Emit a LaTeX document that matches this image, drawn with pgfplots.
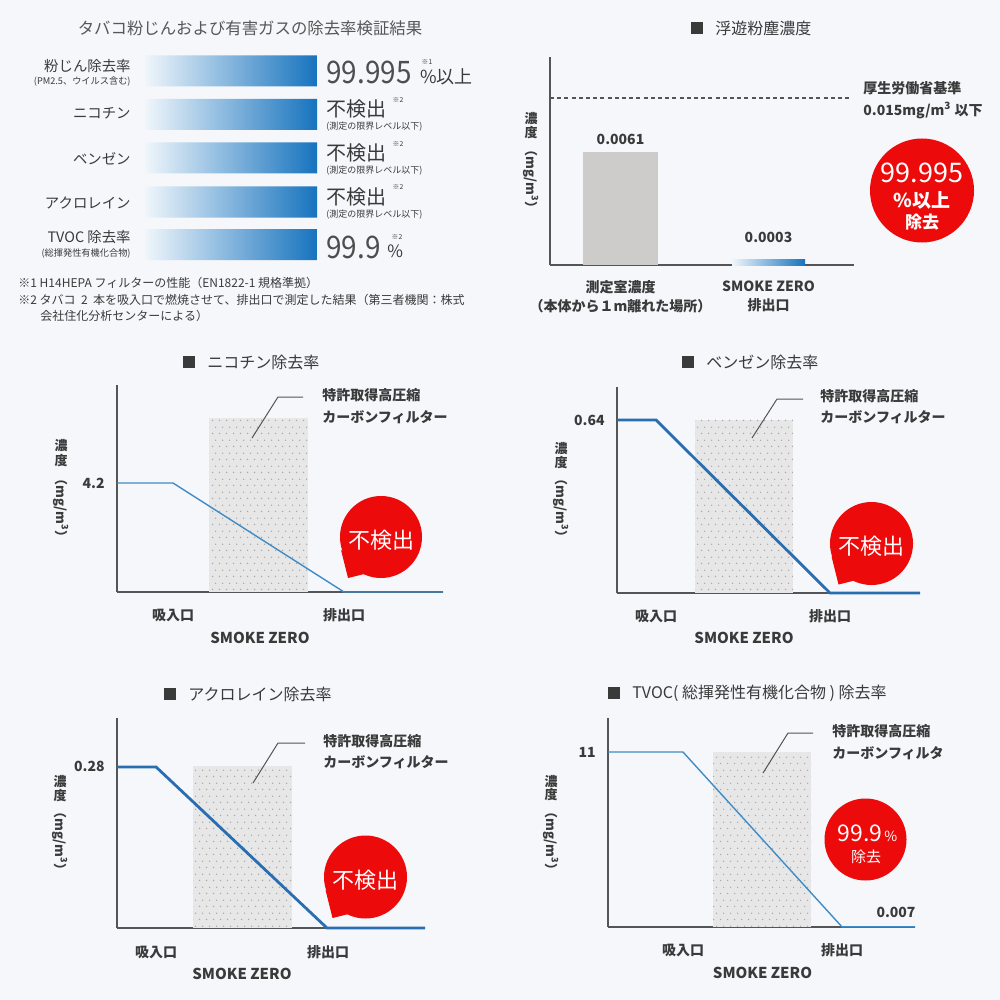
\documentclass[border=0pt]{standalone}
\usepackage{pgfplots}
\pgfplotsset{compat=1.18}
\usepackage{graphicx}
\usepackage{fontspec}
\setmainfont{Noto Sans CJK JP}
\usetikzlibrary{patterns.meta}

\definecolor{bgc}{HTML}{F5F7FA}
\definecolor{txt}{HTML}{3A3A3A}
\definecolor{axc}{HTML}{555555}
\definecolor{bluethin}{HTML}{3F8CC6}
\definecolor{bluethick}{HTML}{2A6EB2}
\definecolor{bluebar}{HTML}{1673BE}
\definecolor{barlight}{HTML}{F0F6FB}
\definecolor{grayb}{HTML}{CECCCA}
\definecolor{filtc}{HTML}{E7E7E7}
\definecolor{dotc}{HTML}{ADA8A8}
\definecolor{redc}{HTML}{EC0A0A}
\definecolor{sqc}{HTML}{3A3A3A}

\newcommand\fs[1]{\fontsize{#1}{#1}\selectfont}
\newcommand\lbl{\fontsize{7}{9.5}\selectfont\bfseries}

\tikzdeclarepattern{
  name=fdots, type=uncolored,
  bottom left={(0pt,0pt)}, top right={(3.3pt,6.6pt)},
  tile size={(3.3pt,6.6pt)},
  code={
    \pgfpathcircle{\pgfpoint{0.8pt}{0.8pt}}{0.4pt}
    \pgfpathcircle{\pgfpoint{2.45pt}{4.1pt}}{0.4pt}
    \pgfusepath{fill}
  }
}

\pgfplotsset{
  linech/.style={scale only axis, anchor=south west, clip=false,
    axis x line*=bottom, axis y line*=left,
    axis line style={draw=axc, line width=1pt, -},
    xmin=0, ymin=0, major tick length=0pt,
    ticklabel style={font=\lbl, text=txt},
    xticklabel style={anchor=center, inner sep=0pt, yshift=-11.5pt},
    yticklabel style={anchor=east, inner sep=0pt, xshift=-6pt},
    xticklabels={吸入口,排出口}},
  filt/.style={fill=filtc, draw=none, postaction={pattern=fdots, pattern color=dotc}},
}

\begin{document}
\begin{tikzpicture}[x=0.5pt,y=-0.5pt, every node/.style={inner sep=0pt, text=txt}]
\fill[bgc] (0,0) rectangle (1000,1000);

% ---------------- top-left bars ----------------
\begin{axis}[at={(72.5pt,-132.5pt)}, anchor=south west, scale only axis,
  width=86pt, height=107.5pt, hide axis, clip=false,
  xmin=0, xmax=100, ymin=-265, ymax=-50]
\addplot[xbar, bar width=15.5pt, bar shift=0pt, draw=none, left color=barlight, right color=bluebar]
  coordinates {(99.995,-71)(100,-114.5)(100,-158)(100,-202)(99.9,-244.5)};
\end{axis}

\node[font=\fs{8.2}, text=txt!85] at (250,28) {タバコ粉じんおよび有害ガスの除去率検証結果};
\node[anchor=east, font=\fs{7.2}] at (131,66) {粉じん除去率};
\node[anchor=east, font=\fs{4.6}] at (131,81.5) {(PM2.5、ウイルス含む)};
\node[anchor=east, font=\fs{7.2}] at (131,113) {ニコチン};
\node[anchor=east, font=\fs{7.2}] at (131,159) {ベンゼン};
\node[anchor=east, font=\fs{7.2}] at (131,203) {アクロレイン};
\node[anchor=east, font=\fs{7.2}] at (131,237.5) {TVOC 除去率};
\node[anchor=east, font=\fs{4.6}] at (131,253.5) {(総揮発性有機化合物)};

\node[anchor=west, font=\fs{15.5}, text=txt!90] at (326,72) {\scalebox{0.9}[1]{99.995}};
\node[anchor=west, font=\fs{9}] at (420,77) {\%以上};
\node[font=\fs{3.4}] at (427,61.5) {※1};
\foreach \yy in {109,153,196.5}{
  \node[anchor=west, font=\fs{10}] at (326,\yy) {不検出};
  \node[font=\fs{3.4}] at (398,\yy-9.5) {※2};
  \node[anchor=west, font=\fs{4.5}] at (326,\yy+18) {(測定の限界レベル以下)};
}
\node[anchor=west, font=\fs{15.5}, text=txt!90] at (326,247) {\scalebox{0.9}[1]{99.9}};
\node[anchor=west, font=\fs{8.5}] at (387,251) {\%};
\node[font=\fs{3.4}] at (397,236.5) {※2};

\node[anchor=west, font=\fs{6}] at (18,283) {※1 H14HEPA フィルターの性能（EN1822-1 規格準拠）};
\node[anchor=west, font=\fs{6}] at (18,299.5) {※2 タバコ\ \ 2\ \ 本を吸入口で燃焼させて、排出口で測定した結果（第三者機関：株式};
\node[anchor=west, font=\fs{6}] at (40,315.5) {会社住化分析センターによる）};

% ---------------- top-right bars ----------------
\begin{axis}[at={(275pt,-132.5pt)}, anchor=south west, scale only axis,
  width=152pt, height=104pt, clip=false,
  axis x line*=bottom, axis y line*=left,
  axis line style={draw=axc, line width=1pt, -},
  xmin=550, xmax=854, ymin=0, ymax=0.01123,
  ytick=\empty, xtick={620.5,768.5},
  xticklabels={{測定室濃度\\（本体から１m離れた場所）},{SMOKE ZERO\\排出口}},
  major tick length=0pt,
  xticklabel style={align=center, anchor=north, inner sep=0pt, yshift=-7.5pt, font=\lbl, text=txt}]
\addplot[ybar, bar width=37.5pt, bar shift=0pt, fill=grayb, draw=none] coordinates {(620.5,0.0061)};
\addplot[ybar, bar width=36.5pt, bar shift=0pt, draw=none, left color=barlight, right color=bluebar] coordinates {(768.5,0.0003)};
\addplot[draw=axc, line width=0.6pt, dash pattern=on 2pt off 1.6pt] coordinates {(550,0.00902)(852,0.00902)};
\end{axis}

\fill[sqc] (691,22) rectangle (703,34);
\node[anchor=west, font=\fs{8}] at (715,28) {浮遊粉塵濃度};
\node[font=\lbl] at (620.5,139) {0.0061};
\node[font=\lbl] at (768.5,237) {0.0003};
\node[anchor=west, font=\lbl] at (863,88) {厚生労働省基準};
\node[anchor=west, font=\lbl] at (863,110) {0.015mg/m\textsuperscript{3} 以下};
\node[font=\fs{6.5}\bfseries] at (531,119) {濃};
\node[font=\fs{6.5}\bfseries] at (531,133) {度};
\node[font=\fs{6.5}\bfseries, rotate=-90] at (531,179) {（mg/m\textsuperscript{3}）};
\fill[redc] (922,190.5) circle (52);
\node[font=\fs{13.5}, text=white] at (922,173) {99.995};
\node[font=\fs{9.5}\bfseries, text=white] at (922,200) {\%以上};
\node[font=\fs{8.5}\bfseries, text=white] at (922,222) {除去};

% ---------------- nicotine ----------------
\begin{axis}[linech, at={(58.5pt,-296pt)}, width=163pt, height=103.5pt,
  xmax=326, ymax=7.976, xtick={56,227}, ytick={4.2}, yticklabels={4.2}]
\addplot[filt] coordinates {(92,6.70)(191,6.70)} \closedcycle;
\addplot[draw=bluethin, line width=0.7pt] coordinates {(0,4.2)(56,4.2)(227,0)(326,0)};
\end{axis}
\fill[sqc] (183,356) rectangle (195,368);
\node[anchor=west, font=\fs{8}] at (207,362) {ニコチン除去率};
\draw[axc, line width=0.5pt] (252,438)--(278,397)--(303,397);
\node[anchor=west, font=\lbl] at (322,395) {特許取得高圧縮};
\node[anchor=west, font=\lbl] at (322,417) {カーボンフィルター};
\fill[redc] (381,537) circle (41);
\fill[redc] (341,550)--(348,578)--(372,572)--cycle;
\node[font=\fs{11}, text=white] at (381,540) {不検出};
\node[font=\fs{7.5}\bfseries] at (260,638) {SMOKE ZERO};
\node[font=\fs{6.5}\bfseries] at (61,446) {濃};
\node[font=\fs{6.5}\bfseries] at (61,461) {度};
\node[font=\fs{6.5}\bfseries, rotate=-90] at (61,508) {（mg/m\textsuperscript{3}）};

% ---------------- benzene ----------------
\begin{axis}[linech, at={(308.5pt,-296.5pt)}, width=151.5pt, height=103pt,
  xmax=303, ymax=0.762, xtick={39,213}, ytick={0.64}, yticklabels={0.64}]
\addplot[filt] coordinates {(78,0.64)(176,0.64)} \closedcycle;
\addplot[draw=bluethick, line width=1.4pt] coordinates {(0,0.64)(39,0.64)(213,0)(303,0)};
\end{axis}
\fill[sqc] (682,356) rectangle (694,368);
\node[anchor=west, font=\fs{8}] at (706,362) {ベンゼン除去率};
\draw[axc, line width=0.5pt] (752,438)--(777,399)--(803,399);
\node[anchor=west, font=\lbl] at (820,396) {特許取得高圧縮};
\node[anchor=west, font=\lbl] at (820,417) {カーボンフィルター};
\fill[redc] (871.5,543.5) circle (41.5);
\fill[redc] (831.5,556.5)--(838.5,584.5)--(862.5,578.5)--cycle;
\node[font=\fs{11}, text=white] at (871.5,546.5) {不検出};
\node[font=\fs{7.5}\bfseries] at (744,638) {SMOKE ZERO};
\node[font=\fs{6.5}\bfseries] at (561,449) {濃};
\node[font=\fs{6.5}\bfseries] at (561,463) {度};
\node[font=\fs{6.5}\bfseries, rotate=-90] at (561,508) {（mg/m\textsuperscript{3}）};

% ---------------- acrolein ----------------
\begin{axis}[linech, at={(58.5pt,-464pt)}, width=154pt, height=105pt,
  xmax=308, ymax=0.365, xtick={39,211}, ytick={0.28}, yticklabels={0.28},
  xticklabel style={yshift=-0.5pt}]
\addplot[filt] coordinates {(76,0.282)(175,0.282)} \closedcycle;
\addplot[draw=bluethick, line width=1.4pt] coordinates {(0,0.28)(39,0.28)(210,0)(308,0)};
\end{axis}
\fill[sqc] (164,688) rectangle (176,700);
\node[anchor=west, font=\fs{8}] at (188,694) {アクロレイン除去率};
\draw[axc, line width=0.5pt] (253,783)--(278,743)--(305,743);
\node[anchor=west, font=\lbl] at (323,741) {特許取得高圧縮};
\node[anchor=west, font=\lbl] at (323,762) {カーボンフィルター};
\fill[redc] (365.5,877) circle (41.5);
\fill[redc] (325.5,890)--(332.5,918)--(356.5,912)--cycle;
\node[font=\fs{11}, text=white] at (365.5,880) {不検出};
\node[font=\fs{7.5}\bfseries] at (242,974) {SMOKE ZERO};
\node[font=\fs{6.5}\bfseries] at (60,782) {濃};
\node[font=\fs{6.5}\bfseries] at (60,796) {度};
\node[font=\fs{6.5}\bfseries, rotate=-90] at (60,841) {（mg/m\textsuperscript{3}）};

% ---------------- TVOC ----------------
\begin{axis}[linech, at={(304pt,-463.5pt)}, width=153.5pt, height=104.5pt,
  xmax=307, ymax=13.14, xtick={75,234}, ytick={11}, yticklabels={11}]
\addplot[filt] coordinates {(105,11)(203,11)} \closedcycle;
\addplot[draw=bluethin, line width=0.7pt] coordinates {(0,11)(75,11)(234,0.007)(307,0.007)};
\end{axis}
\fill[sqc] (608,687) rectangle (620,699);
\node[anchor=west, font=\fs{8}] at (632,693) {TVOC( 総揮発性有機化合物 ) 除去率};
\draw[axc, line width=0.5pt] (763,773)--(788,733)--(813,733);
\node[anchor=west, font=\lbl] at (832,731) {特許取得高圧縮};
\node[anchor=west, font=\lbl] at (832,753) {カーボンフィルタ};
\node[font=\lbl] at (896,912) {0.007};
\fill[redc] (865.5,839.5) circle (41);
\node[anchor=east, font=\fs{11.5}, text=white] at (883,833) {99.9};
\node[anchor=west, font=\fs{7}, text=white] at (884,836) {\%};
\node[font=\fs{7.5}, text=white] at (866,857) {除去};
\node[font=\fs{7.5}\bfseries] at (762.5,973) {SMOKE ZERO};
\node[font=\fs{6.5}\bfseries] at (551,781.5) {濃};
\node[font=\fs{6.5}\bfseries] at (551,795) {度};
\node[font=\fs{6.5}\bfseries, rotate=-90] at (551,841) {（mg/m\textsuperscript{3}）};
\end{tikzpicture}
\end{document}
